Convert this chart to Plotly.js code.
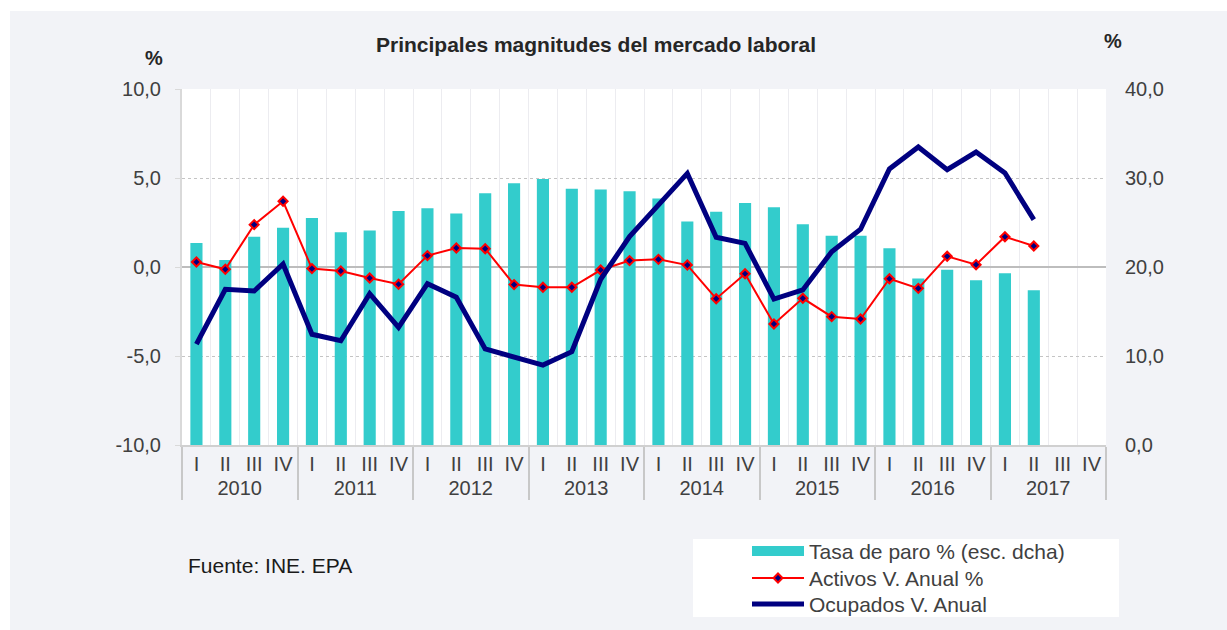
<!DOCTYPE html>
<html>
<head>
<meta charset="utf-8">
<script src="https://cdn.plot.ly/plotly-3.0.1.min.js"></script>
<style>
  html, body { margin: 0; padding: 0; background: #ffffff; }
  #chart { position: absolute; left: 10px; top: 11px; width: 1217px; height: 619px; }
</style>
</head>
<body>
<div id="chart"></div>
<script>
// ---- data ----
const years = ['2010','2011','2012','2013','2014','2015','2016','2017'];
const quarters = ['I','II','III','IV'];

// Tasa de paro % (right scale)
const tasaParo = [22.7, 20.8, 23.4, 24.4, 25.5, 23.9, 24.1, 26.3,
                  26.6, 26.0, 28.3, 29.4, 29.9, 28.8, 28.7, 28.5,
                  27.7, 25.1, 26.2, 27.2, 26.7, 24.8, 23.5, 23.5,
                  22.1, 18.7, 19.7, 18.5, 19.3, 17.4, null, null];
// Activos V. Anual %
const activos = [0.28, -0.13, 2.38, 3.69, -0.09, -0.22, -0.62, -0.97,
                 0.64, 1.07, 1.03, -0.99, -1.14, -1.14, -0.17, 0.36,
                 0.43, 0.11, -1.78, -0.38, -3.2, -1.76, -2.79, -2.92,
                 -0.66, -1.2, 0.6, 0.13, 1.7, 1.18, null, null];
// Ocupados V. Anual
const ocupados = [-4.33, -1.25, -1.35, 0.17, -3.78, -4.14, -1.5, -3.39,
                  -0.94, -1.7, -4.6, -5.06, -5.51, -4.76, -0.69, 1.71,
                  3.5, 5.26, 1.67, 1.33, -1.8, -1.29, 0.86, 2.12,
                  5.51, 6.74, 5.47, 6.46, 5.28, 2.66, null, null];

// axis ticks
const leftTicks = [-10, -5, 0, 5, 10];
const rightTicks = [0, 10, 20, 30, 40];

const seriesNames = ['Tasa de paro % (esc. dcha)', 'Activos V. Anual %', 'Ocupados V. Anual'];
const titleText = 'Principales magnitudes del mercado laboral';
const sourceText = 'Fuente: INE. EPA';

// ---- build multicategory x ----
const xYear = [], xQ = [];
years.forEach(y => quarters.forEach(q => { xYear.push(y); xQ.push(q); }));
const xCat = [xYear, xQ];

const fmt = v => v.toFixed(1).replace('.', ',');

const FONT = 'Liberation Sans, Arial, sans-serif';
const TXT = '#404040';

// plot area in page px: x 182..1106, y 89..445
const px = v => (v - 182) / 924;
const py = v => (445 - v) / 356;

const traces = [
  {
    type: 'bar', name: seriesNames[0], x: xCat, y: tasaParo,
    yaxis: 'y', marker: { color: '#33cccc', line: { width: 0 } },
    showlegend: false, hoverinfo: 'skip'
  },
  {
    type: 'scatter', mode: 'lines+markers', name: seriesNames[1], x: xCat, y: activos,
    yaxis: 'y2', line: { color: '#ff0000', width: 2 },
    marker: { symbol: 'diamond', size: 7, color: '#000080', line: { color: '#ff0000', width: 2 } },
    showlegend: false, connectgaps: false
  },
  {
    type: 'scatter', mode: 'lines', name: seriesNames[2], x: xCat, y: ocupados,
    yaxis: 'y2', line: { color: '#000080', width: 5 },
    showlegend: false, connectgaps: false
  }
];

// custom legend (swatches + labels) in paper coords
const legRows = [551, 578, 604];
const legShapes = [
  { type: 'rect', xref: 'paper', yref: 'paper', layer: 'below',
    x0: px(693), x1: px(1119), y0: py(617), y1: py(539),
    fillcolor: '#ffffff', line: { width: 0 } },
  { type: 'rect', xref: 'paper', yref: 'paper',
    x0: px(752), x1: px(804), y0: py(legRows[0] + 5), y1: py(legRows[0] - 5),
    fillcolor: '#33cccc', line: { width: 0 } },
  { type: 'line', xref: 'paper', yref: 'paper',
    x0: px(752), x1: px(804), y0: py(legRows[1]), y1: py(legRows[1]),
    line: { color: '#ff0000', width: 2 } },
  { type: 'path', xref: 'paper', yref: 'paper',
    path: 'M ' + px(778) + ' ' + py(legRows[1] - 4.5) + ' L ' + px(782.5) + ' ' + py(legRows[1]) +
          ' L ' + px(778) + ' ' + py(legRows[1] + 4.5) + ' L ' + px(773.5) + ' ' + py(legRows[1]) + ' Z',
    fillcolor: '#000080', line: { color: '#ff0000', width: 2 } },
  { type: 'line', xref: 'paper', yref: 'paper',
    x0: px(752), x1: px(804), y0: py(legRows[2]), y1: py(legRows[2]),
    line: { color: '#000080', width: 5 } }
];
const legAnn = seriesNames.map((n, i) => ({
  text: n, xref: 'paper', yref: 'paper', x: px(807), y: py(legRows[i]),
  xanchor: 'left', yanchor: 'middle', showarrow: false,
  font: { family: FONT, size: 21, color: TXT }
}));

const layout = {
  width: 1217, height: 619,
  margin: { l: 172, r: 121, t: 78, b: 185, pad: 0 },
  paper_bgcolor: '#f2f3f7',
  plot_bgcolor: '#ffffff',
  font: { family: FONT, size: 20, color: TXT },
  separators: ',.',
  bargap: 0.58,
  showlegend: false,
  xaxis: {
    type: 'multicategory', range: [-0.5, 31.5], autorange: false,
    showgrid: true, gridcolor: '#ececf0', gridwidth: 1,
    tickson: 'boundaries', tickangle: 0,
    showline: true, linecolor: '#d0d0d0', linewidth: 2,
    showdividers: true, dividercolor: '#c8c8c8', dividerwidth: 2,
    ticks: '', tickfont: { family: FONT, size: 20, color: TXT },
    zeroline: false
  },
  yaxis: {
    side: 'right', range: [0, 40], tickmode: 'array',
    tickvals: rightTicks, ticktext: rightTicks.map(fmt),
    showgrid: true, gridcolor: '#c4c4c4', griddash: 'dot', gridwidth: 1,
    zeroline: false, showline: false, ticks: '',
    ticklabelstandoff: 18,
    tickfont: { family: FONT, size: 20, color: TXT }
  },
  yaxis2: {
    overlaying: 'y', side: 'left', range: [-10, 10], tickmode: 'array',
    tickvals: leftTicks, ticktext: leftTicks.map(fmt),
    showgrid: false,
    zeroline: true, zerolinecolor: '#bdbdbd', zerolinewidth: 1.5,
    showline: true, linecolor: '#d9d9d9', linewidth: 2,
    ticks: 'outside', ticklen: 5, tickcolor: '#d9d9d9', tickwidth: 1,
    ticklabelstandoff: 10,
    tickfont: { family: FONT, size: 20, color: TXT }
  },
  shapes: legShapes,
  annotations: [
    { text: '<b>' + titleText + '</b>', xref: 'paper', yref: 'paper',
      x: px(596), y: py(45), xanchor: 'center', yanchor: 'middle', showarrow: false,
      font: { family: FONT, size: 21, color: '#262626' } },
    { text: '<b>%</b>', xref: 'paper', yref: 'paper',
      x: px(154), y: py(58), xanchor: 'center', yanchor: 'middle', showarrow: false,
      font: { family: FONT, size: 20, color: '#262626' } },
    { text: '<b>%</b>', xref: 'paper', yref: 'paper',
      x: px(1113), y: py(41), xanchor: 'center', yanchor: 'middle', showarrow: false,
      font: { family: FONT, size: 20, color: '#262626' } },
    { text: sourceText, xref: 'paper', yref: 'paper',
      x: px(186), y: py(565), xanchor: 'left', yanchor: 'middle', showarrow: false,
      font: { family: FONT, size: 21, color: '#1a1a1a' } }
  ].concat(legAnn)
};

Plotly.newPlot('chart', traces, layout, { displayModeBar: false, staticPlot: true });
</script>
</body>
</html>
